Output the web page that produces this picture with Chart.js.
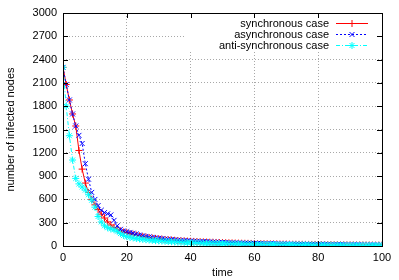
<!DOCTYPE html>
<html>
<head>
<meta charset="utf-8">
<script src="https://cdn.jsdelivr.net/npm/chart.js@4.4.0/dist/chart.umd.min.js"></script>
<style>
  html, body { margin: 0; padding: 0; background: #fff; }
</style>
</head>
<body>
<canvas id="infectChart" width="399" height="280"></canvas>
<script>
// time steps 0..100 (x axis)
var timeSteps = [];
for (var t = 0; t <= 100; t++) timeSteps.push(t);

var xTicks = [0, 20, 40, 60, 80, 100];
var yTicks = [0, 300, 600, 900, 1200, 1500, 1800, 2100, 2400, 2700, 3000];

var seriesNames = ["synchronous case", "asynchronous case", "anti-synchronous case"];

// one value per time step
var syncCase = [2300, 2080, 1880, 1700, 1545, 1230, 990, 810, 690, 600,
  530, 470, 410, 360, 310, 270, 240, 215, 195, 180,
  170, 160, 150, 140, 130, 122, 114, 108, 102, 96,
  92, 88, 84, 80, 77, 74, 71, 68, 66, 63,
  61, 59, 57, 55, 53, 51, 49, 48, 46, 45,
  43, 42, 41, 40, 38, 37, 36, 35, 34, 33,
  32, 31, 30, 30, 29, 28, 27, 27, 26, 25,
  25, 24, 23, 23, 22, 22, 21, 21, 20, 20,
  19, 19, 18, 18, 17, 17, 17, 16, 16, 15,
  15, 15, 14, 14, 14, 13, 13, 13, 12, 12, 12];

var asyncCase = [2300, 2080, 1880, 1700, 1545, 1425, 1320, 1060, 860, 690,
  600, 520, 460, 430, 415, 400, 330, 260, 215, 195,
  185, 175, 165, 155, 142, 132, 124, 118, 112, 105,
  100, 95, 90, 86, 82, 79, 76, 73, 70, 67,
  64, 62, 60, 58, 56, 54, 52, 50, 49, 47,
  46, 44, 43, 42, 40, 39, 38, 37, 36, 35,
  34, 33, 32, 31, 30, 30, 29, 28, 27, 27,
  26, 25, 25, 24, 23, 23, 22, 22, 21, 21,
  20, 20, 19, 19, 18, 18, 18, 17, 17, 16,
  16, 16, 15, 15, 15, 14, 14, 14, 13, 13, 13];

var antiSyncCase = [2300, 1800, 1420, 1107, 870, 800, 760, 720, 660, 590,
  500, 380, 310, 260, 235, 220, 210, 190, 160, 135,
  120, 112, 104, 97, 91, 86, 81, 77, 73, 69,
  66, 63, 60, 57, 55, 52, 50, 48, 46, 44,
  42, 41, 39, 38, 36, 35, 34, 33, 32, 31,
  30, 29, 28, 27, 27, 26, 25, 24, 24, 23,
  22, 22, 21, 21, 20, 20, 19, 19, 18, 18,
  17, 17, 16, 16, 16, 15, 15, 15, 14, 14,
  14, 13, 13, 13, 12, 12, 12, 12, 11, 11,
  11, 11, 10, 10, 10, 10, 9, 9, 9, 9, 8];

var FONT = "'Liberation Sans', Arial, sans-serif";

function toPoints(vals) {
  return timeSteps.map(function(t, i) { return {x: t, y: vals[i]}; });
}

var datasets = [
  {
    label: seriesNames[0], data: toPoints(syncCase),
    borderColor: "#ff0000", backgroundColor: "#ff0000",
    borderWidth: 1, pointStyle: "cross", pointRadius: 3.5,
    pointBorderWidth: 1, borderDash: [], order: 3
  },
  {
    label: seriesNames[1], data: toPoints(asyncCase),
    borderColor: "#0000ff", backgroundColor: "#0000ff",
    borderWidth: 1, pointStyle: "crossRot", pointRadius: 3.5,
    pointBorderWidth: 1, borderDash: [2, 2], order: 2
  },
  {
    label: seriesNames[2], data: toPoints(antiSyncCase),
    borderColor: "#00ffff", backgroundColor: "#00ffff",
    borderWidth: 1, pointStyle: "star", pointRadius: 3.5,
    pointBorderWidth: 1, borderDash: [4, 2, 1, 2], order: 1
  }
];

// gnuplot-like key at top right, text right aligned, sample on the right
var keyPlugin = {
  id: "gnuKey",
  afterDatasetsDraw: function(chart) {
    var ctx = chart.ctx;
    var area = chart.chartArea;
    ctx.save();
    ctx.fillStyle = "#fff";
    ctx.fillRect(186, area.top + 1, area.right - 187, 37);
    ctx.font = "11px " + FONT;
    ctx.textAlign = "right";
    ctx.textBaseline = "middle";
    chart.data.datasets.forEach(function(ds, i) {
      var y = area.top + 10.5 + i * 11;
      ctx.fillStyle = "#000";
      ctx.fillText(ds.label, 329, y);
      ctx.strokeStyle = ds.borderColor;
      ctx.fillStyle = ds.borderColor;
      ctx.lineWidth = 1;
      ctx.setLineDash(ds.borderDash);
      ctx.beginPath();
      ctx.moveTo(336, y);
      ctx.lineTo(368, y);
      ctx.stroke();
      ctx.setLineDash([]);
      Chart.helpers.drawPoint(ctx, {
        pointStyle: ds.pointStyle, radius: 3.5, borderWidth: 1, rotation: 0
      }, 352, y);
    });
    ctx.restore();
  },
  afterDraw: function(chart) {
    // frame with inward ticks on all four sides
    var ctx = chart.ctx;
    var a = chart.chartArea;
    var xs = chart.scales.x, ys = chart.scales.y;
    ctx.save();
    ctx.strokeStyle = "#000";
    ctx.lineWidth = 1;
    ctx.beginPath();
    xs.ticks.forEach(function(tk) {
      var px = Math.round(xs.getPixelForValue(tk.value)) + 0.5;
      ctx.moveTo(px, a.bottom); ctx.lineTo(px, a.bottom - 5);
      ctx.moveTo(px, a.top); ctx.lineTo(px, a.top + 5);
    });
    ys.ticks.forEach(function(tk) {
      var py = Math.round(ys.getPixelForValue(tk.value)) + 0.5;
      ctx.moveTo(a.left, py); ctx.lineTo(a.left + 5, py);
      ctx.moveTo(a.right, py); ctx.lineTo(a.right - 5, py);
    });
    ctx.stroke();
    ctx.strokeRect(Math.round(a.left) + 0.5, Math.round(a.top) + 0.5,
      Math.round(a.right - a.left), Math.round(a.bottom - a.top));
    ctx.restore();
  }
};

function plainLabel(v) { return String(v); }

var ctx = document.getElementById("infectChart").getContext("2d");
var infectChart = new Chart(ctx, {
  type: "line",
  data: { datasets: datasets },
  options: {
    responsive: false,
    animation: false,
    devicePixelRatio: 1,
    layout: { padding: { top: 13, right: 17, left: 0, bottom: 0 } },
    plugins: { legend: { display: false }, tooltip: { enabled: false } },
    elements: { line: { tension: 0 } },
    scales: {
      x: {
        type: "linear", min: 0, max: 100,
        afterBuildTicks: function(s) { s.ticks = xTicks.map(function(v) { return {value: v}; }); },
        ticks: { color: "#000", font: { family: FONT, size: 11 }, padding: 5, maxRotation: 0,
                 callback: plainLabel },
        grid: { color: "#a8a8a8", drawTicks: false, lineWidth: 1 },
        border: { display: false, dash: [1, 2] },
        title: { display: true, text: "time", color: "#000",
                 font: { family: FONT, size: 11 }, padding: { top: 0, bottom: 0 } },
        afterFit: function(s) { s.height = 34; }
      },
      y: {
        min: 0, max: 3000,
        afterBuildTicks: function(s) { s.ticks = yTicks.map(function(v) { return {value: v}; }); },
        ticks: { color: "#000", font: { family: FONT, size: 11 }, padding: 6,
                 callback: plainLabel },
        grid: { color: "#a8a8a8", drawTicks: false, lineWidth: 1 },
        border: { display: false, dash: [1, 2] },
        title: { display: true, text: "number of infected nodes", color: "#000",
                 font: { family: FONT, size: 11 }, padding: { top: 4, bottom: 0 } },
        afterFit: function(s) { s.width = 63; }
      }
    }
  },
  plugins: [keyPlugin]
});
</script>
</body>
</html>
